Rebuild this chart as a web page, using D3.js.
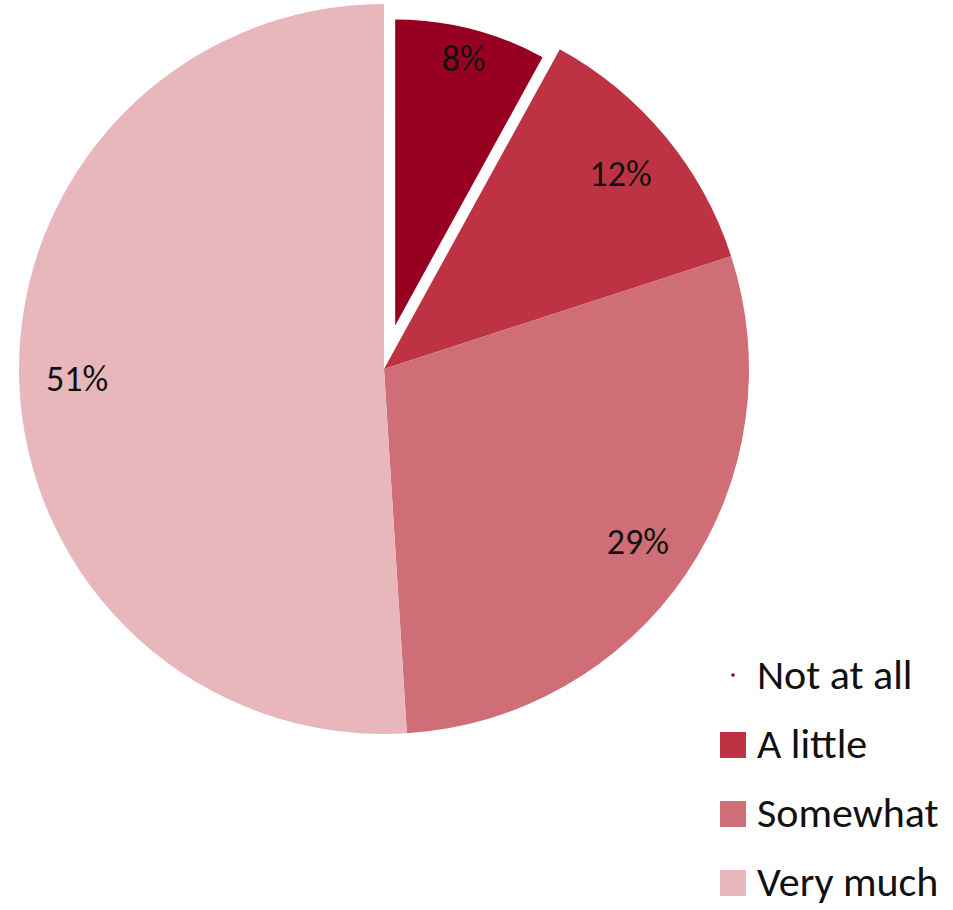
<!DOCTYPE html>
<html>
<head>
<meta charset="utf-8">
<script src="https://cdn.jsdelivr.net/npm/d3@7"></script>
<style>
  html, body { margin: 0; padding: 0; background: #fff; }
  svg { display: block; }
  text { font-family: Carlito, Calibri, "Open Sans", sans-serif; fill: #111; }
</style>
</head>
<body>
<script>
// Survey answer categories and their shares (percent)
const categories = ["Not at all", "A little", "Somewhat", "Very much"];
const shares = [8, 12, 29, 51];
const palette = ["#980022", "#BE3343", "#D06E78", "#E8B7BC"];

const width = 953, height = 910;
const cx = 384, cy = 369;
const radius = 365;
const explodedRadius = 306;   // the pulled-out first slice is drawn smaller
const explodeDist = 45;
const labelR = 307;
const explodedLabelR = 276;

const svg = d3.select("body").append("svg")
  .attr("width", width)
  .attr("height", height);

const color = d3.scaleOrdinal().domain(categories).range(palette);

const pie = d3.pie().sort(null).value(d => d.value);
const data = pie(categories.map((c, i) => ({ name: c, value: shares[i] })));

const arcMain = d3.arc().innerRadius(0).outerRadius(radius);
const arcExploded = d3.arc().innerRadius(0).outerRadius(explodedRadius);
const labelArc = d3.arc().innerRadius(labelR).outerRadius(labelR);
const labelArcExploded = d3.arc().innerRadius(explodedLabelR).outerRadius(explodedLabelR);

const g = svg.append("g").attr("transform", `translate(${cx},${cy})`);

function offset(d, i) {
  if (i !== 0) return [0, 0];
  const mid = (d.startAngle + d.endAngle) / 2;
  return [Math.sin(mid) * explodeDist, -Math.cos(mid) * explodeDist];
}

const slices = g.selectAll("g.slice")
  .data(data)
  .join("g")
  .attr("class", "slice")
  .attr("transform", (d, i) => { const o = offset(d, i); return `translate(${o[0]},${o[1]})`; });

slices.append("path")
  .attr("d", (d, i) => (i === 0 ? arcExploded : arcMain)(d))
  .attr("fill", d => color(d.data.name));

slices.append("text")
  .attr("transform", (d, i) => {
    const c = (i === 0 ? labelArcExploded : labelArc).centroid(d);
    return `translate(${c[0]},${c[1]})`;
  })
  .attr("text-anchor", "middle")
  .attr("dy", "0.35em")
  .attr("font-size", 36)
  .text(d => d.data.value + "%");

// Legend, bottom right
const legendX = 720, legendTop = 689, legendStep = 69, sw = 26;
const legend = svg.append("g");
const items = legend.selectAll("g")
  .data(categories)
  .join("g")
  .attr("transform", (d, i) => `translate(${legendX},${legendTop + i * legendStep})`);

items.each(function (d, i) {
  const it = d3.select(this);
  if (i === 0) {
    // first entry's marker is only a small dot
    it.append("circle").attr("cx", 13).attr("cy", -14).attr("r", 1.8).attr("fill", color(d));
  } else {
    it.append("rect").attr("x", 0).attr("y", -sw).attr("width", sw).attr("height", sw).attr("fill", color(d));
  }
});

items.append("text")
  .attr("x", 37)
  .attr("y", 0)
  .attr("font-size", 42)
  .text(d => d);
</script>
</body>
</html>
